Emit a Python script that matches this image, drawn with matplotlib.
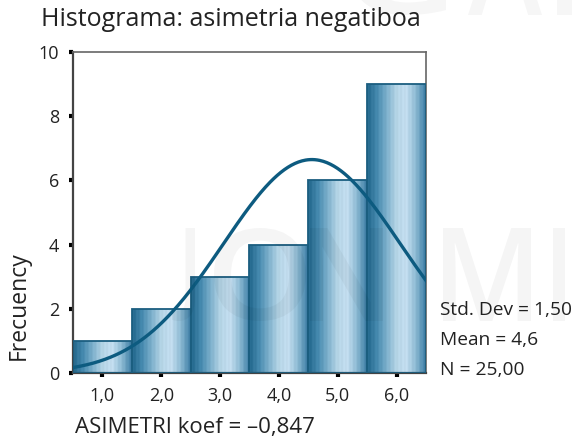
import numpy as np
import matplotlib
matplotlib.use("Agg")
import matplotlib.pyplot as plt
from matplotlib.colors import LinearSegmentedColormap
from matplotlib.patches import Rectangle, PathPatch
from matplotlib.textpath import TextPath
from matplotlib.font_manager import FontProperties
from matplotlib.transforms import Affine2D

# datos del histograma
values = [1, 2, 3, 4, 5, 6]
counts = [1, 2, 3, 4, 6, 9]
tick_labels = ["1,0", "2,0", "3,0", "4,0", "5,0", "6,0"]
y_ticks = [0, 2, 4, 6, 8, 10]
mean = 4.56
std = 1.50
n = 25

W, H = 576, 442
plt.rcParams['font.family'] = ['Open Sans', 'DejaVu Sans']

fig = plt.figure(figsize=(W / 100, H / 100), dpi=100)

# marca de agua: letras colocadas en cajas (px desde arriba-izquierda)
wm_font = FontProperties(family='Open Sans', weight='semibold')
def watermark(letter, x0, x1, top, bottom, alpha):
    tp = TextPath((0, 0), letter, size=1, prop=wm_font)
    bb = tp.get_extents()
    tr = (Affine2D().translate(-bb.x0, -bb.y0)
          .scale((x1 - x0) / bb.width, (bottom - top) / bb.height)
          .translate(x0, H - bottom).scale(1 / W, 1 / H))
    fig.add_artist(PathPatch(tp, transform=tr + fig.transFigure, fc='black',
                             lw=0, alpha=alpha, zorder=10))

for letter, x0, x1 in [("J", 172, 195), ("O", 214, 306), ("N", 310, 383),
                       ("M", 443, 531), ("I", 553, 565)]:
    watermark(letter, x0, x1, 228, 321, 0.04)
for letter, x0, x1 in [("G", 350, 446), ("A", 468, 542), ("I", 557, 572)]:
    watermark(letter, x0, x1, -78, 15, 0.035)

ax = fig.add_axes([73 / W, 1 - 373 / H, (426 - 73) / W, (373 - 52) / H])
ax.patch.set_alpha(0)
ax.set_xlim(0.5, 6.5)
ax.set_ylim(0, 10)

# degradado de las barras
cmap = LinearSegmentedColormap.from_list(
    "bar", ["#22678c", "#4589ae", "#7db0cc", "#b5d5e6", "#c4def0", "#8bb9d2", "#3a7ba3"])
xs = np.linspace(0, 1, 240)
grad = cmap(xs)
stripes = 0.018 * np.sin(xs * 95)
grad[:, :3] = np.clip(grad[:, :3] + stripes[:, None], 0, 1)
grad = grad[None, :, :]

for v, c in zip(values, counts):
    x0, x1 = v - 0.5, v + 0.5
    im = ax.imshow(grad, extent=[x0, x1, 0, c], aspect='auto', zorder=2, interpolation='bilinear')
    rect = Rectangle((x0, 0), 1, c, facecolor='none', edgecolor='#1b5e80', lw=1.3, zorder=3)
    ax.add_patch(rect)
    im.set_clip_path(rect)

# curva normal
xc = np.linspace(0.5, 6.5, 300)
yc = n * 1.0 / (std * np.sqrt(2 * np.pi)) * np.exp(-0.5 * ((xc - mean) / std) ** 2)
ax.plot(xc, yc, color='#0d5b80', lw=2.4, zorder=4)

ax.set_xlim(0.5, 6.5)
ax.set_ylim(0, 10)
ax.set_xticks(values)
ax.set_xticklabels(tick_labels)
ax.set_yticks(y_ticks)
for s in ['top', 'right']:
    ax.spines[s].set_color('#666666')
    ax.spines[s].set_linewidth(1.2)
for s in ['left', 'bottom']:
    ax.spines[s].set_color('#444444')
    ax.spines[s].set_linewidth(1.6)
ax.tick_params(direction='out', length=3, width=3, color='black', labelsize=13,
               labelcolor='#222222', pad=7)

fig.text(41 / W, 1 - 20 / H, "Histograma: asimetria negatiboa", fontsize=18,
         color='#222222', ha='left', va='center')
fig.text(19 / W, 1 - 360 / H, "Frecuency", fontsize=16.5, rotation=90,
         color='#222222', ha='center', va='bottom')
fig.text(75 / W, 1 - 428 / H, "ASIMETRI koef = \u20130,847", fontsize=16,
         color='#222222', ha='left', va='center')
stats = ["Std. Dev = 1,50", "Mean = 4,6", "N = 25,00"]
for i, s in enumerate(stats):
    fig.text(440 / W, 1 - (310 + 30 * i) / H, s, fontsize=13.8,
             color='#222222', ha='left', va='center')

fig.savefig("out.png", dpi=100)
